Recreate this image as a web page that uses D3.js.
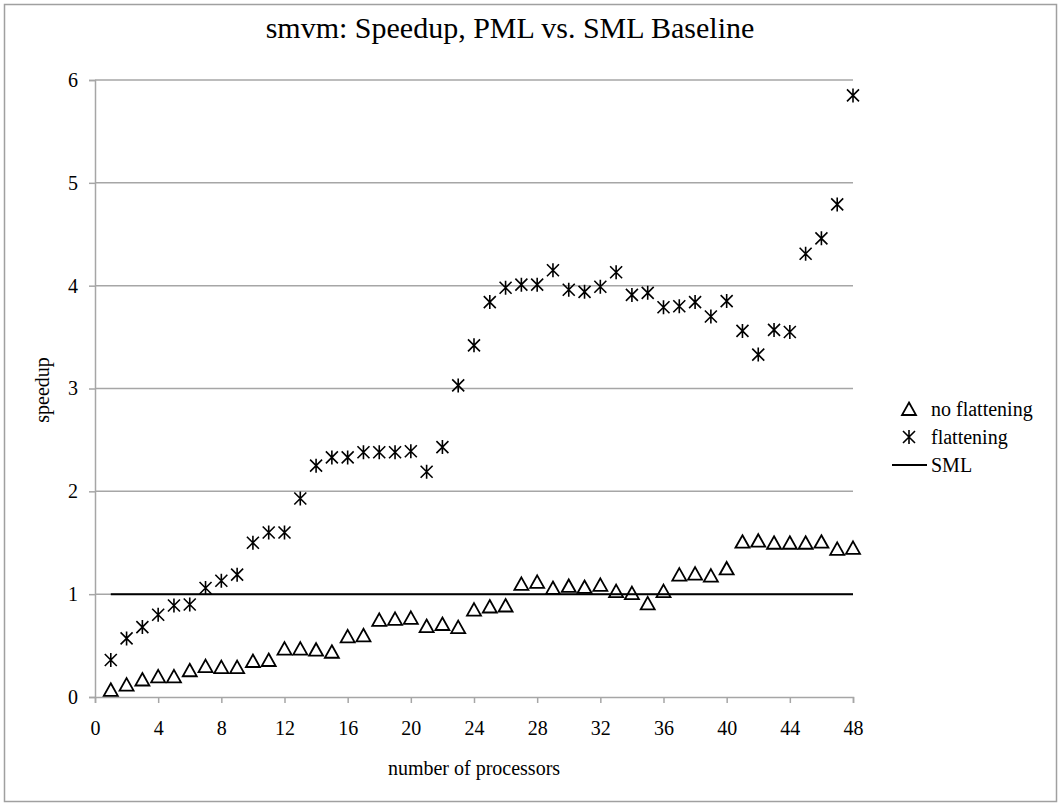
<!DOCTYPE html>
<html lang="en">
<head>
    <meta charset="UTF-8">
    <title>smvm speedup</title>
    <style>
        html,body{
            margin: 0;
            padding: 0;
            background: #fff;
        }
        text{
            font-family: "Liberation Serif", "Times New Roman", serif;
            fill: #000;
        }
    </style>
</head>
<body>
<div id="container"></div>

<script src="https://d3js.org/d3.v7.min.js"></script>
<script>
    // processors 1..48
    const procs = d3.range(1, 49)
    const noFlattening = [0.07, 0.12, 0.17, 0.20, 0.20, 0.26, 0.30, 0.29, 0.29, 0.35,
        0.36, 0.47, 0.47, 0.46, 0.44, 0.59, 0.60, 0.75, 0.76, 0.77,
        0.69, 0.71, 0.68, 0.85, 0.88, 0.89, 1.10, 1.12, 1.06, 1.08,
        1.07, 1.09, 1.03, 1.01, 0.91, 1.03, 1.19, 1.20, 1.18, 1.25,
        1.51, 1.52, 1.50, 1.50, 1.50, 1.51, 1.44, 1.45]
    const flattening = [0.36, 0.57, 0.68, 0.80, 0.89, 0.90, 1.06, 1.13, 1.19, 1.50,
        1.60, 1.60, 1.93, 2.25, 2.33, 2.33, 2.38, 2.38, 2.38, 2.39,
        2.19, 2.43, 3.03, 3.42, 3.84, 3.98, 4.01, 4.01, 4.15, 3.96,
        3.94, 3.99, 4.13, 3.91, 3.93, 3.79, 3.80, 3.84, 3.70, 3.85,
        3.56, 3.33, 3.57, 3.55, 4.31, 4.46, 4.79, 5.85]
    const smlBaseline = 1
    const xTicks = d3.range(0, 49, 4)
    const yTicks = [0, 1, 2, 3, 4, 5, 6]
    const legendNames = ['no flattening', 'flattening', 'SML']

    const [width, height] = [1061, 804]
    const svg = d3.select('#container').append('svg')
        .attr('width', width)
        .attr('height', height)

    // chart border
    svg.append('rect')
        .attr('x', 4.5).attr('y', 4.5)
        .attr('width', 1052).attr('height', 797)
        .attr('fill', '#fff')
        .attr('stroke', '#a0a0a0')
        .attr('stroke-width', 1.5)

    const x = d3.scaleLinear().domain([0, 48]).range([95, 853])
    const y = d3.scaleLinear().domain([0, 6]).range([697, 80])

    // gridlines
    svg.append('g')
        .selectAll('line')
        .data(yTicks.filter(d => d > 0))
        .join('line')
        .attr('x1', x(0)).attr('x2', x(48))
        .attr('y1', d => y(d)).attr('y2', d => y(d))
        .attr('stroke', '#a6a6a6')
        .attr('stroke-width', 1.5)

    // y axis
    const yAxis = svg.append('g')
        .attr('transform', `translate(${x(0)},0)`)
        .call(d3.axisLeft(y).tickValues(yTicks).tickSize(6).tickPadding(11).tickFormat(d3.format('d')))
    yAxis.select('.domain').attr('stroke', '#a6a6a6').attr('stroke-width', 1.5)
    yAxis.selectAll('.tick line').attr('stroke', '#a6a6a6').attr('stroke-width', 1.5)
    yAxis.selectAll('.tick text')
        .style('font-family', '"Liberation Serif", serif')
        .style('font-size', '20px')

    // x axis
    const xAxis = svg.append('g')
        .attr('transform', `translate(0,${y(0)})`)
        .call(d3.axisBottom(x).tickValues(xTicks).tickSize(6).tickPadding(18).tickFormat(d3.format('d')))
    xAxis.select('.domain').attr('stroke', '#a6a6a6').attr('stroke-width', 1.5)
    xAxis.selectAll('.tick line').attr('stroke', '#a6a6a6').attr('stroke-width', 1.5)
    xAxis.selectAll('.tick text')
        .style('font-family', '"Liberation Serif", serif')
        .style('font-size', '20px')

    // SML baseline
    svg.append('line')
        .attr('x1', x(procs[0])).attr('x2', x(procs[procs.length - 1]))
        .attr('y1', y(smlBaseline)).attr('y2', y(smlBaseline))
        .attr('stroke', '#000')
        .attr('stroke-width', 2)

    function triangle(g, cx, cy) {
        g.append('path')
            .attr('d', `M${cx},${cy - 6.5}L${cx + 7},${cy + 6}L${cx - 7},${cy + 6}Z`)
            .attr('fill', 'none')
            .attr('stroke', '#000')
            .attr('stroke-width', 1.8)
    }
    function asterisk(g, cx, cy) {
        g.append('path')
            .attr('d', `M${cx},${cy - 7}V${cy + 7}M${cx - 6},${cy - 6}L${cx + 6},${cy + 6}M${cx - 6},${cy + 6}L${cx + 6},${cy - 6}`)
            .attr('fill', 'none')
            .attr('stroke', '#000')
            .attr('stroke-width', 1.6)
    }

    const triG = svg.append('g')
    procs.forEach((p, i) => triangle(triG, x(p), y(noFlattening[i])))
    const starG = svg.append('g')
    procs.forEach((p, i) => asterisk(starG, x(p), y(flattening[i])))

    // legend
    const legend = svg.append('g')
    const rowY = [409, 437, 465]
    triangle(legend, 909, rowY[0])
    asterisk(legend, 909, rowY[1])
    legend.append('line')
        .attr('x1', 892).attr('x2', 927)
        .attr('y1', rowY[2]).attr('y2', rowY[2])
        .attr('stroke', '#000').attr('stroke-width', 2)
    legend.selectAll('text')
        .data(legendNames)
        .join('text')
        .attr('x', 931)
        .attr('y', (d, i) => rowY[i])
        .attr('dy', '0.35em')
        .style('font-size', '20px')
        .text(d => d)

    // titles
    svg.append('text')
        .attr('x', 510).attr('y', 38)
        .attr('text-anchor', 'middle')
        .style('font-size', '30px')
        .text('smvm: Speedup, PML vs. SML Baseline')

    svg.append('text')
        .attr('x', 474).attr('y', 775)
        .attr('text-anchor', 'middle')
        .style('font-size', '20px')
        .text('number of processors')

    svg.append('text')
        .attr('transform', 'translate(49,390) rotate(-90)')
        .attr('text-anchor', 'middle')
        .style('font-size', '20px')
        .text('speedup')
</script>
</body>
</html>
